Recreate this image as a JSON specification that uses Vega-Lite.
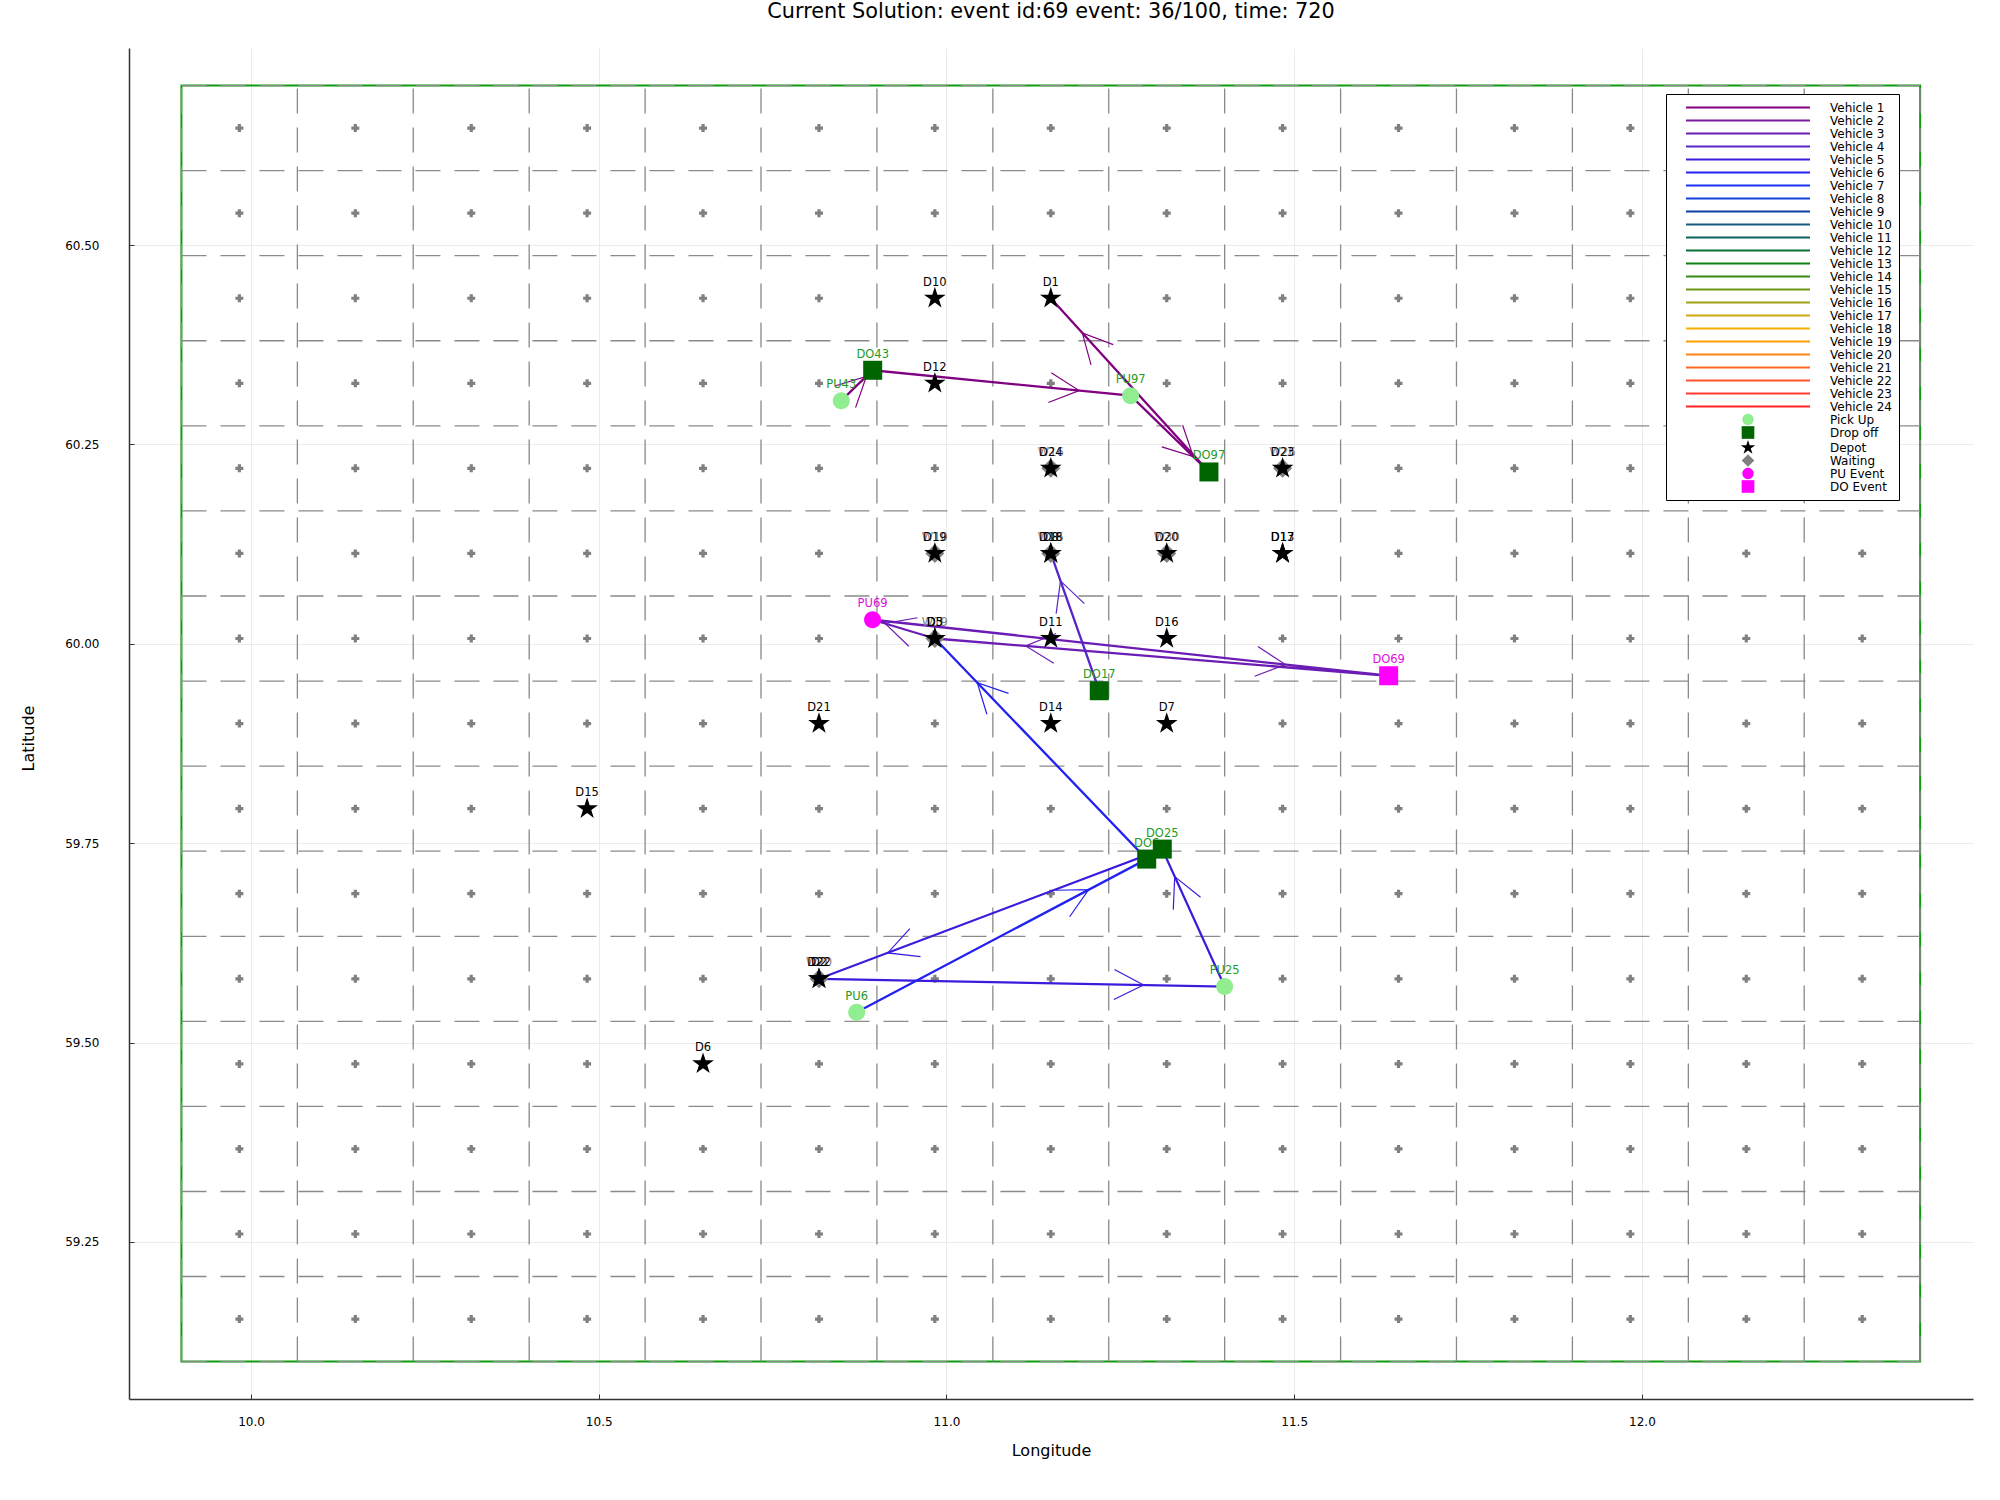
{
  "$schema": "https://vega.github.io/schema/vega-lite/v6.json",
  "width": 1844,
  "height": 1351,
  "autosize": {"type": "none"},
  "padding": {"left": 129, "top": 48, "right": 27, "bottom": 101},
  "background": "white",
  "title": {"text": "Current Solution: event id:69 event: 36/100, time: 720", "font": "DejaVu Sans", "fontSize": 20.8, "fontWeight": "normal", "color": "#000000", "anchor": "middle", "frame": "group", "offset": 25},
  "config": {
    "view": {"stroke": null},
    "font": "DejaVu Sans",
    "axis": {"grid": true, "gridColor": "#ebebeb", "gridWidth": 1, "domainColor": "#333333", "domainWidth": 1.5, "tickColor": "#333333", "tickSize": -5, "labelFont": "DejaVu Sans", "labelFontSize": 12, "labelColor": "#000000", "titleFont": "DejaVu Sans", "titleFontSize": 16, "titleFontWeight": "normal", "titleColor": "#000000"}
  },
  "datasets": {
    "border": [{"lon": 9.9, "lon2": 12.4, "lat": 59.1, "lat2": 60.7}],
    "vlines": [
      {"lon": 9.9, "lat": 59.1, "lat2": 60.7}, {"lon": 10.0667, "lat": 59.1, "lat2": 60.7}, {"lon": 10.2333, "lat": 59.1, "lat2": 60.7}, {"lon": 10.4, "lat": 59.1, "lat2": 60.7},
      {"lon": 10.5667, "lat": 59.1, "lat2": 60.7}, {"lon": 10.7333, "lat": 59.1, "lat2": 60.7}, {"lon": 10.9, "lat": 59.1, "lat2": 60.7}, {"lon": 11.0667, "lat": 59.1, "lat2": 60.7},
      {"lon": 11.2333, "lat": 59.1, "lat2": 60.7}, {"lon": 11.4, "lat": 59.1, "lat2": 60.7}, {"lon": 11.5667, "lat": 59.1, "lat2": 60.7}, {"lon": 11.7333, "lat": 59.1, "lat2": 60.7},
      {"lon": 11.9, "lat": 59.1, "lat2": 60.7}, {"lon": 12.0667, "lat": 59.1, "lat2": 60.7}, {"lon": 12.2333, "lat": 59.1, "lat2": 60.7}, {"lon": 12.4, "lat": 59.1, "lat2": 60.7}
    ],
    "hlines": [
      {"lat": 59.1, "lon": 9.9, "lon2": 12.4}, {"lat": 59.2067, "lon": 9.9, "lon2": 12.4}, {"lat": 59.3133, "lon": 9.9, "lon2": 12.4}, {"lat": 59.42, "lon": 9.9, "lon2": 12.4},
      {"lat": 59.5267, "lon": 9.9, "lon2": 12.4}, {"lat": 59.6333, "lon": 9.9, "lon2": 12.4}, {"lat": 59.74, "lon": 9.9, "lon2": 12.4}, {"lat": 59.8467, "lon": 9.9, "lon2": 12.4},
      {"lat": 59.9533, "lon": 9.9, "lon2": 12.4}, {"lat": 60.06, "lon": 9.9, "lon2": 12.4}, {"lat": 60.1667, "lon": 9.9, "lon2": 12.4}, {"lat": 60.2733, "lon": 9.9, "lon2": 12.4},
      {"lat": 60.38, "lon": 9.9, "lon2": 12.4}, {"lat": 60.4867, "lon": 9.9, "lon2": 12.4}, {"lat": 60.5933, "lon": 9.9, "lon2": 12.4}, {"lat": 60.7, "lon": 9.9, "lon2": 12.4}
    ],
    "cells": [
      {"lon":9.9833,"lat":60.6467},{"lon":10.15,"lat":60.6467},{"lon":10.3167,"lat":60.6467},{"lon":10.4833,"lat":60.6467},{"lon":10.65,"lat":60.6467},{"lon":10.8167,"lat":60.6467},{"lon":10.9833,"lat":60.6467},{"lon":11.15,"lat":60.6467},{"lon":11.3167,"lat":60.6467},{"lon":11.4833,"lat":60.6467},{"lon":11.65,"lat":60.6467},{"lon":11.8167,"lat":60.6467},{"lon":11.9833,"lat":60.6467},{"lon":12.15,"lat":60.6467},{"lon":12.3167,"lat":60.6467},
      {"lon":9.9833,"lat":60.54},{"lon":10.15,"lat":60.54},{"lon":10.3167,"lat":60.54},{"lon":10.4833,"lat":60.54},{"lon":10.65,"lat":60.54},{"lon":10.8167,"lat":60.54},{"lon":10.9833,"lat":60.54},{"lon":11.15,"lat":60.54},{"lon":11.3167,"lat":60.54},{"lon":11.4833,"lat":60.54},{"lon":11.65,"lat":60.54},{"lon":11.8167,"lat":60.54},{"lon":11.9833,"lat":60.54},{"lon":12.15,"lat":60.54},{"lon":12.3167,"lat":60.54},
      {"lon":9.9833,"lat":60.4333},{"lon":10.15,"lat":60.4333},{"lon":10.3167,"lat":60.4333},{"lon":10.4833,"lat":60.4333},{"lon":10.65,"lat":60.4333},{"lon":10.8167,"lat":60.4333},{"lon":10.9833,"lat":60.4333},{"lon":11.15,"lat":60.4333},{"lon":11.3167,"lat":60.4333},{"lon":11.4833,"lat":60.4333},{"lon":11.65,"lat":60.4333},{"lon":11.8167,"lat":60.4333},{"lon":11.9833,"lat":60.4333},{"lon":12.15,"lat":60.4333},{"lon":12.3167,"lat":60.4333},
      {"lon":9.9833,"lat":60.3267},{"lon":10.15,"lat":60.3267},{"lon":10.3167,"lat":60.3267},{"lon":10.4833,"lat":60.3267},{"lon":10.65,"lat":60.3267},{"lon":10.8167,"lat":60.3267},{"lon":10.9833,"lat":60.3267},{"lon":11.15,"lat":60.3267},{"lon":11.3167,"lat":60.3267},{"lon":11.4833,"lat":60.3267},{"lon":11.65,"lat":60.3267},{"lon":11.8167,"lat":60.3267},{"lon":11.9833,"lat":60.3267},{"lon":12.15,"lat":60.3267},{"lon":12.3167,"lat":60.3267},
      {"lon":9.9833,"lat":60.22},{"lon":10.15,"lat":60.22},{"lon":10.3167,"lat":60.22},{"lon":10.4833,"lat":60.22},{"lon":10.65,"lat":60.22},{"lon":10.8167,"lat":60.22},{"lon":10.9833,"lat":60.22},{"lon":11.15,"lat":60.22},{"lon":11.3167,"lat":60.22},{"lon":11.4833,"lat":60.22},{"lon":11.65,"lat":60.22},{"lon":11.8167,"lat":60.22},{"lon":11.9833,"lat":60.22},{"lon":12.15,"lat":60.22},{"lon":12.3167,"lat":60.22},
      {"lon":9.9833,"lat":60.1133},{"lon":10.15,"lat":60.1133},{"lon":10.3167,"lat":60.1133},{"lon":10.4833,"lat":60.1133},{"lon":10.65,"lat":60.1133},{"lon":10.8167,"lat":60.1133},{"lon":10.9833,"lat":60.1133},{"lon":11.15,"lat":60.1133},{"lon":11.3167,"lat":60.1133},{"lon":11.4833,"lat":60.1133},{"lon":11.65,"lat":60.1133},{"lon":11.8167,"lat":60.1133},{"lon":11.9833,"lat":60.1133},{"lon":12.15,"lat":60.1133},{"lon":12.3167,"lat":60.1133},
      {"lon":9.9833,"lat":60.0067},{"lon":10.15,"lat":60.0067},{"lon":10.3167,"lat":60.0067},{"lon":10.4833,"lat":60.0067},{"lon":10.65,"lat":60.0067},{"lon":10.8167,"lat":60.0067},{"lon":10.9833,"lat":60.0067},{"lon":11.15,"lat":60.0067},{"lon":11.3167,"lat":60.0067},{"lon":11.4833,"lat":60.0067},{"lon":11.65,"lat":60.0067},{"lon":11.8167,"lat":60.0067},{"lon":11.9833,"lat":60.0067},{"lon":12.15,"lat":60.0067},{"lon":12.3167,"lat":60.0067},
      {"lon":9.9833,"lat":59.9},{"lon":10.15,"lat":59.9},{"lon":10.3167,"lat":59.9},{"lon":10.4833,"lat":59.9},{"lon":10.65,"lat":59.9},{"lon":10.8167,"lat":59.9},{"lon":10.9833,"lat":59.9},{"lon":11.15,"lat":59.9},{"lon":11.3167,"lat":59.9},{"lon":11.4833,"lat":59.9},{"lon":11.65,"lat":59.9},{"lon":11.8167,"lat":59.9},{"lon":11.9833,"lat":59.9},{"lon":12.15,"lat":59.9},{"lon":12.3167,"lat":59.9},
      {"lon":9.9833,"lat":59.7933},{"lon":10.15,"lat":59.7933},{"lon":10.3167,"lat":59.7933},{"lon":10.4833,"lat":59.7933},{"lon":10.65,"lat":59.7933},{"lon":10.8167,"lat":59.7933},{"lon":10.9833,"lat":59.7933},{"lon":11.15,"lat":59.7933},{"lon":11.3167,"lat":59.7933},{"lon":11.4833,"lat":59.7933},{"lon":11.65,"lat":59.7933},{"lon":11.8167,"lat":59.7933},{"lon":11.9833,"lat":59.7933},{"lon":12.15,"lat":59.7933},{"lon":12.3167,"lat":59.7933},
      {"lon":9.9833,"lat":59.6867},{"lon":10.15,"lat":59.6867},{"lon":10.3167,"lat":59.6867},{"lon":10.4833,"lat":59.6867},{"lon":10.65,"lat":59.6867},{"lon":10.8167,"lat":59.6867},{"lon":10.9833,"lat":59.6867},{"lon":11.15,"lat":59.6867},{"lon":11.3167,"lat":59.6867},{"lon":11.4833,"lat":59.6867},{"lon":11.65,"lat":59.6867},{"lon":11.8167,"lat":59.6867},{"lon":11.9833,"lat":59.6867},{"lon":12.15,"lat":59.6867},{"lon":12.3167,"lat":59.6867},
      {"lon":9.9833,"lat":59.58},{"lon":10.15,"lat":59.58},{"lon":10.3167,"lat":59.58},{"lon":10.4833,"lat":59.58},{"lon":10.65,"lat":59.58},{"lon":10.8167,"lat":59.58},{"lon":10.9833,"lat":59.58},{"lon":11.15,"lat":59.58},{"lon":11.3167,"lat":59.58},{"lon":11.4833,"lat":59.58},{"lon":11.65,"lat":59.58},{"lon":11.8167,"lat":59.58},{"lon":11.9833,"lat":59.58},{"lon":12.15,"lat":59.58},{"lon":12.3167,"lat":59.58},
      {"lon":9.9833,"lat":59.4733},{"lon":10.15,"lat":59.4733},{"lon":10.3167,"lat":59.4733},{"lon":10.4833,"lat":59.4733},{"lon":10.65,"lat":59.4733},{"lon":10.8167,"lat":59.4733},{"lon":10.9833,"lat":59.4733},{"lon":11.15,"lat":59.4733},{"lon":11.3167,"lat":59.4733},{"lon":11.4833,"lat":59.4733},{"lon":11.65,"lat":59.4733},{"lon":11.8167,"lat":59.4733},{"lon":11.9833,"lat":59.4733},{"lon":12.15,"lat":59.4733},{"lon":12.3167,"lat":59.4733},
      {"lon":9.9833,"lat":59.3667},{"lon":10.15,"lat":59.3667},{"lon":10.3167,"lat":59.3667},{"lon":10.4833,"lat":59.3667},{"lon":10.65,"lat":59.3667},{"lon":10.8167,"lat":59.3667},{"lon":10.9833,"lat":59.3667},{"lon":11.15,"lat":59.3667},{"lon":11.3167,"lat":59.3667},{"lon":11.4833,"lat":59.3667},{"lon":11.65,"lat":59.3667},{"lon":11.8167,"lat":59.3667},{"lon":11.9833,"lat":59.3667},{"lon":12.15,"lat":59.3667},{"lon":12.3167,"lat":59.3667},
      {"lon":9.9833,"lat":59.26},{"lon":10.15,"lat":59.26},{"lon":10.3167,"lat":59.26},{"lon":10.4833,"lat":59.26},{"lon":10.65,"lat":59.26},{"lon":10.8167,"lat":59.26},{"lon":10.9833,"lat":59.26},{"lon":11.15,"lat":59.26},{"lon":11.3167,"lat":59.26},{"lon":11.4833,"lat":59.26},{"lon":11.65,"lat":59.26},{"lon":11.8167,"lat":59.26},{"lon":11.9833,"lat":59.26},{"lon":12.15,"lat":59.26},{"lon":12.3167,"lat":59.26},
      {"lon":9.9833,"lat":59.1533},{"lon":10.15,"lat":59.1533},{"lon":10.3167,"lat":59.1533},{"lon":10.4833,"lat":59.1533},{"lon":10.65,"lat":59.1533},{"lon":10.8167,"lat":59.1533},{"lon":10.9833,"lat":59.1533},{"lon":11.15,"lat":59.1533},{"lon":11.3167,"lat":59.1533},{"lon":11.4833,"lat":59.1533},{"lon":11.65,"lat":59.1533},{"lon":11.8167,"lat":59.1533},{"lon":11.9833,"lat":59.1533},{"lon":12.15,"lat":59.1533},{"lon":12.3167,"lat":59.1533}
    ],
    "routes": [
      {"vehicle": "Vehicle 1", "seq": 1, "lon": 10.8487, "lat": 60.3049},
      {"vehicle": "Vehicle 1", "seq": 2, "lon": 10.8939, "lat": 60.343},
      {"vehicle": "Vehicle 1", "seq": 3, "lon": 11.2648, "lat": 60.3112},
      {"vehicle": "Vehicle 1", "seq": 4, "lon": 11.3774, "lat": 60.2155},
      {"vehicle": "Vehicle 1", "seq": 5, "lon": 11.15, "lat": 60.4333},
      {"vehicle": "Vehicle 3", "seq": 1, "lon": 10.9833, "lat": 60.0067},
      {"vehicle": "Vehicle 3", "seq": 2, "lon": 10.8937, "lat": 60.0302},
      {"vehicle": "Vehicle 3", "seq": 3, "lon": 11.6358, "lat": 59.96},
      {"vehicle": "Vehicle 3", "seq": 4, "lon": 10.9833, "lat": 60.0067},
      {"vehicle": "Vehicle 4", "seq": 1, "lon": 11.2197, "lat": 59.9412},
      {"vehicle": "Vehicle 4", "seq": 2, "lon": 11.15, "lat": 60.1133},
      {"vehicle": "Vehicle 5", "seq": 1, "lon": 10.8167, "lat": 59.58},
      {"vehicle": "Vehicle 5", "seq": 2, "lon": 11.4, "lat": 59.5702},
      {"vehicle": "Vehicle 5", "seq": 3, "lon": 11.3103, "lat": 59.7426},
      {"vehicle": "Vehicle 5", "seq": 4, "lon": 10.8167, "lat": 59.58},
      {"vehicle": "Vehicle 6", "seq": 1, "lon": 10.8709, "lat": 59.5381},
      {"vehicle": "Vehicle 6", "seq": 2, "lon": 11.2879, "lat": 59.7301},
      {"vehicle": "Vehicle 6", "seq": 3, "lon": 10.9833, "lat": 60.0067}
    ],
    "arrows": [
      {"vehicle": "Vehicle 1", "arrow": "a1", "seq": 1, "lon": 10.8394, "lat": 60.3233},
      {"vehicle": "Vehicle 1", "arrow": "a1", "seq": 2, "lon": 10.8848, "lat": 60.3353},
      {"vehicle": "Vehicle 1", "arrow": "a1", "seq": 3, "lon": 10.8693, "lat": 60.2962},
      {"vehicle": "Vehicle 1", "arrow": "a2", "seq": 1, "lon": 11.1507, "lat": 60.3399},
      {"vehicle": "Vehicle 1", "arrow": "a2", "seq": 2, "lon": 11.1907, "lat": 60.3176},
      {"vehicle": "Vehicle 1", "arrow": "a2", "seq": 3, "lon": 11.1465, "lat": 60.3026},
      {"vehicle": "Vehicle 1", "arrow": "a3", "seq": 1, "lon": 11.3396, "lat": 60.274},
      {"vehicle": "Vehicle 1", "arrow": "a3", "seq": 2, "lon": 11.3549, "lat": 60.2347},
      {"vehicle": "Vehicle 1", "arrow": "a3", "seq": 3, "lon": 11.3096, "lat": 60.247},
      {"vehicle": "Vehicle 1", "arrow": "a4", "seq": 1, "lon": 11.2079, "lat": 60.3498},
      {"vehicle": "Vehicle 1", "arrow": "a4", "seq": 2, "lon": 11.1954, "lat": 60.3897},
      {"vehicle": "Vehicle 1", "arrow": "a4", "seq": 3, "lon": 11.2398, "lat": 60.3752},
      {"vehicle": "Vehicle 3", "arrow": "a5", "seq": 1, "lon": 10.9459, "lat": 59.9969},
      {"vehicle": "Vehicle 3", "arrow": "a5", "seq": 2, "lon": 10.9117, "lat": 60.0255},
      {"vehicle": "Vehicle 3", "arrow": "a5", "seq": 3, "lon": 10.9584, "lat": 60.0327},
      {"vehicle": "Vehicle 3", "arrow": "a6", "seq": 1, "lon": 11.4477, "lat": 59.9967},
      {"vehicle": "Vehicle 3", "arrow": "a6", "seq": 2, "lon": 11.4874, "lat": 59.974},
      {"vehicle": "Vehicle 3", "arrow": "a6", "seq": 3, "lon": 11.4431, "lat": 59.9594},
      {"vehicle": "Vehicle 3", "arrow": "a7", "seq": 1, "lon": 11.1543, "lat": 59.9757},
      {"vehicle": "Vehicle 3", "arrow": "a7", "seq": 2, "lon": 11.1139, "lat": 59.9974},
      {"vehicle": "Vehicle 3", "arrow": "a7", "seq": 3, "lon": 11.1577, "lat": 60.013},
      {"vehicle": "Vehicle 4", "arrow": "a8", "seq": 1, "lon": 11.1577, "lat": 60.0379},
      {"vehicle": "Vehicle 4", "arrow": "a8", "seq": 2, "lon": 11.1639, "lat": 60.0789},
      {"vehicle": "Vehicle 4", "arrow": "a8", "seq": 3, "lon": 11.1983, "lat": 60.0504},
      {"vehicle": "Vehicle 5", "arrow": "a9", "seq": 1, "lon": 11.2415, "lat": 59.5916},
      {"vehicle": "Vehicle 5", "arrow": "a9", "seq": 2, "lon": 11.2834, "lat": 59.5721},
      {"vehicle": "Vehicle 5", "arrow": "a9", "seq": 3, "lon": 11.2407, "lat": 59.5541},
      {"vehicle": "Vehicle 5", "arrow": "a10", "seq": 1, "lon": 11.3261, "lat": 59.6667},
      {"vehicle": "Vehicle 5", "arrow": "a10", "seq": 2, "lon": 11.3282, "lat": 59.7081},
      {"vehicle": "Vehicle 5", "arrow": "a10", "seq": 3, "lon": 11.3653, "lat": 59.6823},
      {"vehicle": "Vehicle 5", "arrow": "a11", "seq": 1, "lon": 10.9626, "lat": 59.6079},
      {"vehicle": "Vehicle 5", "arrow": "a11", "seq": 2, "lon": 10.9155, "lat": 59.6124},
      {"vehicle": "Vehicle 5", "arrow": "a11", "seq": 3, "lon": 10.9474, "lat": 59.643},
      {"vehicle": "Vehicle 6", "arrow": "a12", "seq": 1, "lon": 11.157, "lat": 59.691},
      {"vehicle": "Vehicle 6", "arrow": "a12", "seq": 2, "lon": 11.2045, "lat": 59.6917},
      {"vehicle": "Vehicle 6", "arrow": "a12", "seq": 3, "lon": 11.1771, "lat": 59.6578},
      {"vehicle": "Vehicle 6", "arrow": "a13", "seq": 1, "lon": 11.0581, "lat": 59.9117},
      {"vehicle": "Vehicle 6", "arrow": "a13", "seq": 2, "lon": 11.0443, "lat": 59.9513},
      {"vehicle": "Vehicle 6", "arrow": "a13", "seq": 3, "lon": 11.0892, "lat": 59.9378}
    ],
    "nodes": [
      {"name": "W16", "type": "Waiting", "lon": 11.15, "lat": 60.22},
      {"name": "W26", "type": "Waiting", "lon": 11.4833, "lat": 60.22},
      {"name": "W10", "type": "Waiting", "lon": 10.9833, "lat": 60.1133},
      {"name": "W15", "type": "Waiting", "lon": 11.15, "lat": 60.1133},
      {"name": "W30", "type": "Waiting", "lon": 11.3167, "lat": 60.1133},
      {"name": "W19", "type": "Waiting", "lon": 10.9833, "lat": 60.0067},
      {"name": "W20", "type": "Waiting", "lon": 10.8167, "lat": 59.58},
      {"name": "D1", "type": "Depot", "lon": 11.15, "lat": 60.4333},
      {"name": "D2", "type": "Depot", "lon": 10.8167, "lat": 59.58},
      {"name": "D3", "type": "Depot", "lon": 10.9833, "lat": 60.0067},
      {"name": "D5", "type": "Depot", "lon": 10.9833, "lat": 60.0067},
      {"name": "D6", "type": "Depot", "lon": 10.65, "lat": 59.4733},
      {"name": "D7", "type": "Depot", "lon": 11.3167, "lat": 59.9},
      {"name": "D8", "type": "Depot", "lon": 11.15, "lat": 60.1133},
      {"name": "D10", "type": "Depot", "lon": 10.9833, "lat": 60.4333},
      {"name": "D11", "type": "Depot", "lon": 11.15, "lat": 60.0067},
      {"name": "D12", "type": "Depot", "lon": 10.9833, "lat": 60.3267},
      {"name": "D13", "type": "Depot", "lon": 11.4833, "lat": 60.1133},
      {"name": "D14", "type": "Depot", "lon": 11.15, "lat": 59.9},
      {"name": "D15", "type": "Depot", "lon": 10.4833, "lat": 59.7933},
      {"name": "D16", "type": "Depot", "lon": 11.3167, "lat": 60.0067},
      {"name": "D17", "type": "Depot", "lon": 11.4833, "lat": 60.1133},
      {"name": "D18", "type": "Depot", "lon": 11.15, "lat": 60.1133},
      {"name": "D19", "type": "Depot", "lon": 10.9833, "lat": 60.1133},
      {"name": "D20", "type": "Depot", "lon": 11.3167, "lat": 60.1133},
      {"name": "D21", "type": "Depot", "lon": 10.8167, "lat": 59.9},
      {"name": "D22", "type": "Depot", "lon": 10.8167, "lat": 59.58},
      {"name": "D23", "type": "Depot", "lon": 11.4833, "lat": 60.22},
      {"name": "D24", "type": "Depot", "lon": 11.15, "lat": 60.22},
      {"name": "PU43", "type": "Pick Up", "lon": 10.8487, "lat": 60.3049},
      {"name": "DO43", "type": "Drop off", "lon": 10.8939, "lat": 60.343},
      {"name": "PU97", "type": "Pick Up", "lon": 11.2648, "lat": 60.3112},
      {"name": "DO97", "type": "Drop off", "lon": 11.3774, "lat": 60.2155},
      {"name": "DO17", "type": "Drop off", "lon": 11.2197, "lat": 59.9412},
      {"name": "PU25", "type": "Pick Up", "lon": 11.4, "lat": 59.5702},
      {"name": "PU6", "type": "Pick Up", "lon": 10.8709, "lat": 59.5381},
      {"name": "DO6", "type": "Drop off", "lon": 11.2879, "lat": 59.7301},
      {"name": "DO25", "type": "Drop off", "lon": 11.3103, "lat": 59.7426},
      {"name": "PU69", "type": "PU Event", "lon": 10.8937, "lat": 60.0302},
      {"name": "DO69", "type": "DO Event", "lon": 11.6358, "lat": 59.96}
    ]
  },
  "encoding": {
    "x": {"field": "lon", "type": "quantitative", "title": "Longitude", "scale": {"domain": [9.8246, 12.476], "nice": false, "zero": false},
      "axis": {"values": [10, 10.5, 11, 11.5, 12], "format": ".1f", "labelPadding": 22, "titleY": 51, "titleBaseline": "middle"}},
    "y": {"field": "lat", "type": "quantitative", "title": "Latitude", "scale": {"domain": [59.0531, 60.7471], "nice": false, "zero": false},
      "axis": {"values": [59.25, 59.5, 59.75, 60, 60.25, 60.5], "format": ".2f", "labelPadding": 35, "titleX": -101, "titleY": 690, "titleBaseline": "middle"}}
  },
  "layer": [
    {
      "data": {"name": "border"},
      "mark": {"type": "rect", "filled": false, "color": "#0f9a0f", "strokeWidth": 2},
      "encoding": {"x2": {"field": "lon2"}, "y2": {"field": "lat2"}}
    },
    {
      "data": {"name": "vlines"},
      "mark": {"type": "rule", "color": "#8a8a8a", "strokeWidth": 1.3, "strokeDash": [25, 14]},
      "encoding": {"y2": {"field": "lat2"}}
    },
    {
      "data": {"name": "hlines"},
      "mark": {"type": "rule", "color": "#8a8a8a", "strokeWidth": 1.3, "strokeDash": [25, 14]},
      "encoding": {"x2": {"field": "lon2"}}
    },
    {
      "data": {"name": "cells"},
      "mark": {"type": "point", "shape": "cross", "filled": true, "size": 64, "color": "#808080", "opacity": 1}
    },
    {
      "data": {"name": "routes"},
      "mark": {"type": "line", "strokeWidth": 2.3},
      "encoding": {
        "stroke": {"field": "vehicle", "type": "nominal", "legend": null,
          "scale": {"domain": ["Vehicle 1","Vehicle 2","Vehicle 3","Vehicle 4","Vehicle 5","Vehicle 6","Vehicle 7","Vehicle 8","Vehicle 9","Vehicle 10","Vehicle 11","Vehicle 12","Vehicle 13","Vehicle 14","Vehicle 15","Vehicle 16","Vehicle 17","Vehicle 18","Vehicle 19","Vehicle 20","Vehicle 21","Vehicle 22","Vehicle 23","Vehicle 24"],
            "range": ["#800080","#7e1a9e","#6a1cb4","#5624c8","#3c1cdc","#2222f0","#1832f4","#1242dc","#0c3ea4","#185a7c","#0a605c","#0a7034","#128014","#388a12","#6e9812","#a0a012","#d0a810","#f6ae00","#ffa000","#ff8414","#ff6a22","#ff522c","#ff3a30","#ff2222"]}},
        "order": {"field": "seq", "type": "quantitative"}
      }
    },
    {
      "data": {"name": "arrows"},
      "mark": {"type": "line", "strokeWidth": 1.2},
      "encoding": {
        "stroke": {"field": "vehicle", "type": "nominal", "legend": null,
          "scale": {"domain": ["Vehicle 1","Vehicle 2","Vehicle 3","Vehicle 4","Vehicle 5","Vehicle 6","Vehicle 7","Vehicle 8","Vehicle 9","Vehicle 10","Vehicle 11","Vehicle 12","Vehicle 13","Vehicle 14","Vehicle 15","Vehicle 16","Vehicle 17","Vehicle 18","Vehicle 19","Vehicle 20","Vehicle 21","Vehicle 22","Vehicle 23","Vehicle 24"],
            "range": ["#800080","#7e1a9e","#6a1cb4","#5624c8","#3c1cdc","#2222f0","#1832f4","#1242dc","#0c3ea4","#185a7c","#0a605c","#0a7034","#128014","#388a12","#6e9812","#a0a012","#d0a810","#f6ae00","#ffa000","#ff8414","#ff6a22","#ff522c","#ff3a30","#ff2222"]}},
        "detail": {"field": "arrow", "type": "nominal"},
        "order": {"field": "seq", "type": "quantitative"}
      }
    },
    {
      "data": {"name": "nodes"},
      "mark": {"type": "text", "font": "DejaVu Sans", "fontSize": 11.5, "dy": -15.5, "baseline": "middle", "align": "center"},
      "encoding": {
        "text": {"field": "name"},
        "fill": {"field": "type", "type": "nominal", "legend": null,
          "scale": {"domain": ["Pick Up", "Drop off", "Depot", "Waiting", "PU Event", "DO Event"], "range": ["#1f9a26", "#1f9a26", "#000000", "#808080", "#dd10dd", "#dd10dd"]}}
      }
    },
    {
      "data": {"name": "nodes"},
      "mark": {"type": "point", "filled": true, "size": 361, "opacity": 1, "strokeWidth": 0},
      "encoding": {
        "color": {"field": "type", "type": "nominal",
          "scale": {"domain": ["Vehicle 1","Vehicle 2","Vehicle 3","Vehicle 4","Vehicle 5","Vehicle 6","Vehicle 7","Vehicle 8","Vehicle 9","Vehicle 10","Vehicle 11","Vehicle 12","Vehicle 13","Vehicle 14","Vehicle 15","Vehicle 16","Vehicle 17","Vehicle 18","Vehicle 19","Vehicle 20","Vehicle 21","Vehicle 22","Vehicle 23","Vehicle 24","Pick Up","Drop off","Depot","Waiting","PU Event","DO Event"],
            "range": ["#800080","#7e1a9e","#6a1cb4","#5624c8","#3c1cdc","#2222f0","#1832f4","#1242dc","#0c3ea4","#185a7c","#0a605c","#0a7034","#128014","#388a12","#6e9812","#a0a012","#d0a810","#f6ae00","#ffa000","#ff8414","#ff6a22","#ff522c","#ff3a30","#ff2222","#90ee90","#006400","#000000","#808080","#ff00ff","#ff00ff"]},
          "legend": {"orient": "none", "legendX": 1537, "legendY": 46, "title": null, "padding": 7, "strokeColor": "#000000", "fillColor": "#ffffff", "cornerRadius": 0,
            "symbolSize": 160, "symbolOffset": 68.5, "labelOffset": 75.5, "rowPadding": 0, "symbolStrokeWidth": 0, "symbolOpacity": 1,
            "labelFont": "DejaVu Sans", "labelFontSize": 12, "labelColor": "#000000", "labelExpr": "datum.label + '   '"}},
        "shape": {"field": "type", "type": "nominal",
          "scale": {"domain": ["Vehicle 1","Vehicle 2","Vehicle 3","Vehicle 4","Vehicle 5","Vehicle 6","Vehicle 7","Vehicle 8","Vehicle 9","Vehicle 10","Vehicle 11","Vehicle 12","Vehicle 13","Vehicle 14","Vehicle 15","Vehicle 16","Vehicle 17","Vehicle 18","Vehicle 19","Vehicle 20","Vehicle 21","Vehicle 22","Vehicle 23","Vehicle 24","Pick Up","Drop off","Depot","Waiting","PU Event","DO Event"],
            "range": ["M-9.8,-0.16L9.8,-0.16L9.8,0.16L-9.8,0.16Z","M-9.8,-0.16L9.8,-0.16L9.8,0.16L-9.8,0.16Z","M-9.8,-0.16L9.8,-0.16L9.8,0.16L-9.8,0.16Z","M-9.8,-0.16L9.8,-0.16L9.8,0.16L-9.8,0.16Z","M-9.8,-0.16L9.8,-0.16L9.8,0.16L-9.8,0.16Z","M-9.8,-0.16L9.8,-0.16L9.8,0.16L-9.8,0.16Z","M-9.8,-0.16L9.8,-0.16L9.8,0.16L-9.8,0.16Z","M-9.8,-0.16L9.8,-0.16L9.8,0.16L-9.8,0.16Z","M-9.8,-0.16L9.8,-0.16L9.8,0.16L-9.8,0.16Z","M-9.8,-0.16L9.8,-0.16L9.8,0.16L-9.8,0.16Z","M-9.8,-0.16L9.8,-0.16L9.8,0.16L-9.8,0.16Z","M-9.8,-0.16L9.8,-0.16L9.8,0.16L-9.8,0.16Z","M-9.8,-0.16L9.8,-0.16L9.8,0.16L-9.8,0.16Z","M-9.8,-0.16L9.8,-0.16L9.8,0.16L-9.8,0.16Z","M-9.8,-0.16L9.8,-0.16L9.8,0.16L-9.8,0.16Z","M-9.8,-0.16L9.8,-0.16L9.8,0.16L-9.8,0.16Z","M-9.8,-0.16L9.8,-0.16L9.8,0.16L-9.8,0.16Z","M-9.8,-0.16L9.8,-0.16L9.8,0.16L-9.8,0.16Z","M-9.8,-0.16L9.8,-0.16L9.8,0.16L-9.8,0.16Z","M-9.8,-0.16L9.8,-0.16L9.8,0.16L-9.8,0.16Z","M-9.8,-0.16L9.8,-0.16L9.8,0.16L-9.8,0.16Z","M-9.8,-0.16L9.8,-0.16L9.8,0.16L-9.8,0.16Z","M-9.8,-0.16L9.8,-0.16L9.8,0.16L-9.8,0.16Z","M-9.8,-0.16L9.8,-0.16L9.8,0.16L-9.8,0.16Z",
              "M-0.895,0A0.895,0.895,0,1,0,0.895,0A0.895,0.895,0,1,0,-0.895,0Z",
              "square",
              "M0,-1.2L0.2694,-0.3708L1.1412,-0.3708L0.436,0.1416L0.7056,0.9708L0,0.4584L-0.7056,0.9708L-0.436,0.1416L-1.1412,-0.3708L-0.2694,-0.3708Z",
              "diamond",
              "M-0.895,0A0.895,0.895,0,1,0,0.895,0A0.895,0.895,0,1,0,-0.895,0Z",
              "square"]}}
      }
    }
  ]
}
